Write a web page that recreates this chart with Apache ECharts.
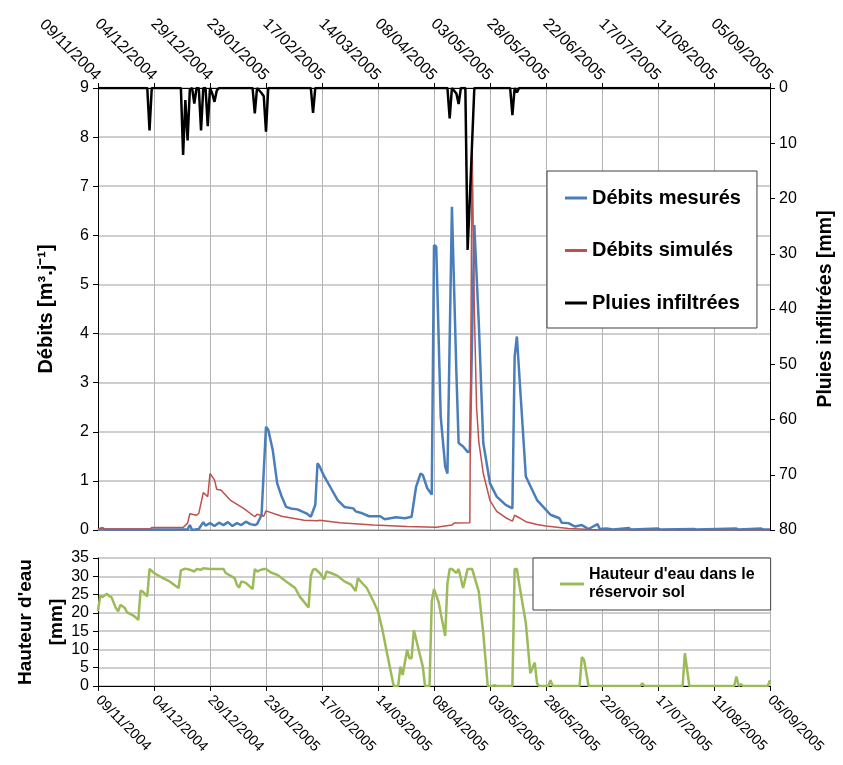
<!DOCTYPE html>
<html>
<head>
<meta charset="utf-8">
<script src="https://cdn.jsdelivr.net/npm/echarts@6/dist/echarts.min.js"></script>
<style>
  html, body { margin: 0; padding: 0; background: #fff; }
  #chart { width: 843px; height: 765px; }
</style>
</head>
<body>
<div id="chart"></div>
<script>
// days counted from 09/11/2004, one tick every 25 days
let dateLabels = ['09/11/2004', '04/12/2004', '29/12/2004', '23/01/2005', '17/02/2005', '14/03/2005',
  '08/04/2005', '03/05/2005', '28/05/2005', '22/06/2005', '17/07/2005', '11/08/2005', '05/09/2005']

// [day, m3/j]
let debitsMesures = [
  [0, 0.01], [2, 0.04], [3, 0.01], [40, 0.01], [41, 0.1], [42, 0.0], [45, 0.02], [47, 0.16], [48, 0.09],
  [50, 0.14], [52, 0.08], [54, 0.15], [56, 0.1], [58, 0.16], [60, 0.08], [62, 0.14], [64, 0.1], [66, 0.17],
  [68, 0.12], [70, 0.1], [71, 0.12], [73, 0.3], [75, 2.1], [76, 2.04], [78, 1.63], [80, 0.95], [82, 0.68],
  [84, 0.47], [86, 0.44], [89, 0.42], [93, 0.34], [95, 0.27], [97, 0.51], [98, 1.36], [99, 1.29], [101, 1.09],
  [104, 0.85], [107, 0.61], [110, 0.47], [114, 0.44], [115, 0.38], [118, 0.34], [121, 0.28], [126, 0.28],
  [128, 0.22], [133, 0.26], [137, 0.24], [140, 0.27], [142, 0.88], [144, 1.15], [145, 1.12], [147, 0.85],
  [149, 0.72], [150, 5.8], [151, 5.77], [153, 2.31], [155, 1.29], [156, 1.15], [158, 6.58], [160, 3.19],
  [161, 1.77], [163, 1.7], [165, 1.59], [166, 1.6], [168, 6.21], [170, 4.21], [172, 1.77], [175, 0.95],
  [178, 0.68], [182, 0.51], [185, 0.44], [186, 3.53], [187, 3.94], [189, 2.51], [191, 1.09], [196, 0.61],
  [200, 0.41], [202, 0.31], [206, 0.24], [207, 0.15], [210, 0.14], [213, 0.07], [216, 0.1], [219, 0.02],
  [223, 0.12], [224, 0.02], [227, 0.03], [230, 0.01], [237, 0.04], [238, 0.01], [250, 0.03], [251, 0.01],
  [266, 0.02], [267, 0.01], [285, 0.03], [286, 0.01], [296, 0.03], [297, 0.01], [300, 0.01]
]

let debitsSimules = [
  [0, 0.02], [23, 0.02], [24, 0.05], [38, 0.05], [40, 0.14], [41, 0.33], [44, 0.3], [45, 0.34], [47, 0.76],
  [49, 0.68], [50, 1.15], [52, 1.02], [53, 0.83], [55, 0.81], [59, 0.61], [65, 0.44], [70, 0.27], [71, 0.32],
  [74, 0.28], [75, 0.39], [82, 0.28], [92, 0.2], [98, 0.19], [99, 0.2], [108, 0.15], [123, 0.1], [138, 0.07],
  [151, 0.055], [158, 0.1], [159, 0.14], [166, 0.15], [167, 7.9], [168, 4.5], [169, 2.5], [170, 1.8],
  [172, 1.15], [175, 0.6], [178, 0.38], [182, 0.25], [185, 0.18], [186, 0.3], [188, 0.25], [191, 0.17],
  [196, 0.11], [200, 0.08], [210, 0.03], [220, 0.01], [300, 0.005]
]

// [day, mm]
let pluiesInfiltrees = [
  [0, 0], [22, 0], [23, 7.7], [24, 0], [37, 0], [38, 12.1], [39, 2.2], [40, 9.5], [41, 0.3], [42, 0],
  [43, 2.8], [44, 0], [45, 0], [46, 7.7], [47, 0], [48, 0], [49, 6.9], [50, 0], [51, 1.0], [52, 2.5],
  [53, 0.5], [54, 0], [69, 0], [70, 4.6], [71, 0], [73, 0.9], [74, 1.5], [75, 7.9], [76, 0], [95, 0],
  [96, 4.5], [97, 0], [156, 0], [157, 5.5], [158, 0], [160, 1.0], [161, 2.9], [162, 0], [164, 0],
  [165, 29.3], [166, 20], [168, 0], [184, 0], [185, 4.9], [186, 0], [187, 0.8], [188, 0], [300, 0]
]

let hauteurEau = [
  [0, 20.5], [1, 24.7], [2, 24.3], [3, 24.8], [4, 25.2], [5, 24.6], [6, 24.3], [8, 21.3], [9, 20.4],
  [10, 22.2], [12, 21.3], [13, 20.1], [16, 19.2], [18, 18.1], [19, 26.1], [20, 25.8], [22, 24.5], [23, 32],
  [25, 30.9], [29, 29.5], [32, 28.6], [35, 27.2], [36, 26.8], [37, 31.6], [39, 32.1], [41, 31.8], [43, 31.3],
  [44, 32], [46, 31.8], [47, 32.2], [50, 32], [56, 32], [57, 30.9], [61, 29.5], [62, 27.7], [63, 26.9],
  [64, 28.6], [66, 28.2], [69, 26.5], [70, 32], [71, 31.3], [72, 31.6], [74, 32], [75, 32], [77, 31.1],
  [80, 30.4], [84, 28.6], [88, 26.8], [90, 24.5], [93, 22.2], [94, 21.5], [95, 30.1], [96, 31.8], [97, 32],
  [99, 30.9], [101, 29.2], [102, 31.3], [104, 30.9], [107, 30.1], [110, 28.6], [113, 27.7], [115, 26],
  [116, 29.5], [118, 28.1], [120, 26.8], [123, 23.1], [125, 20.4], [127, 15.3], [129, 9], [132, 0], [134, 0],
  [135, 5.3], [136, 3], [138, 9.9], [139, 7.6], [140, 7.6], [141, 15.3], [145, 5.3], [146, 0], [148, 0],
  [149, 23.1], [150, 26.5], [152, 23.1], [155, 13.7], [156, 28.1], [157, 32], [158, 32], [160, 30.9],
  [161, 32], [163, 26.8], [165, 32], [167, 32], [170, 25.8], [172, 14.4], [174, 0], [176, 0], [177, 0.2],
  [178, 0], [185, 0], [186, 32], [187, 32], [188, 28.1], [191, 17.2], [193, 3.5], [195, 6.4], [196, 0.7],
  [197, 0], [201, 0], [202, 1.6], [203, 0], [215, 0], [216, 7.9], [217, 7.1], [219, 0], [242, 0], [243, 0.7],
  [244, 0], [261, 0], [262, 9], [264, 0], [284, 0], [285, 2.6], [286, 0], [287, 0.5], [288, 0], [299, 0],
  [300, 1.6]
]

let font = 'Liberation Sans'
let hGrid = { show: true, lineStyle: { color: '#cfcfcf', width: 2 } }
let vGrid = { show: true, lineStyle: { color: '#b4b4b4', width: 1 } }
let blackLine = { show: true, onZero: false, lineStyle: { color: '#000', width: 1 } }
let tick = { show: true, length: 5, lineStyle: { color: '#000' } }
let nameStyle = { fontFamily: font, fontSize: 20, fontWeight: 'bold', color: '#000' }
let dateFmt = function (v) { return dateLabels[Math.round(v / 25)] }

let myChart = echarts.init(document.getElementById('chart'))
myChart.setOption({
  animation: false,
  backgroundColor: '#fff',
  textStyle: { fontFamily: font },
  grid: [
    { left: 98, top: 88, width: 672, height: 442, outerBoundsMode: 'none' },
    { left: 98, top: 558, width: 672, height: 128, outerBoundsMode: 'none' }
  ],
  legend: [{
    data: ['Débits mesurés', 'Débits simulés', 'Pluies infiltrées'],
    orient: 'vertical',
    left: 547,
    top: 171,
    padding: [16, 16, 14, 18],
    itemGap: 30.5,
    itemWidth: 22,
    itemHeight: 3,
    icon: 'rect',
    backgroundColor: '#fff',
    borderColor: '#404040',
    borderWidth: 1,
    textStyle: { fontFamily: font, fontSize: 20, fontWeight: 'bold', color: '#000', lineHeight: 22 }
  }, {
    data: ['Hauteur d\'eau dans le réservoir sol'],
    formatter: function () { return 'Hauteur d\'eau dans le\nréservoir sol' },
    left: 533,
    top: 558,
    padding: [8, 16, 8, 27],
    itemWidth: 24,
    itemHeight: 3,
    icon: 'rect',
    backgroundColor: '#fff',
    borderColor: '#404040',
    borderWidth: 1,
    textStyle: { fontFamily: font, fontSize: 16, fontWeight: 'bold', color: '#000', lineHeight: 18 }
  }],
  xAxis: [{
    gridIndex: 0,
    type: 'value',
    position: 'top',
    min: 0,
    max: 300,
    interval: 25,
    axisLine: blackLine,
    axisTick: tick,
    // echarts mirrors the rotation on a top axis
    axisLabel: { rotate: 45, fontSize: 16, color: '#000', margin: 10, formatter: dateFmt },
    splitLine: vGrid
  }, {
    gridIndex: 0,
    type: 'value',
    position: 'bottom',
    min: 0,
    max: 300,
    interval: 25,
    axisLine: { show: true, onZero: false, lineStyle: { color: '#808080', width: 1 } },
    axisTick: { show: false },
    axisLabel: { show: false },
    splitLine: { show: false }
  }, {
    gridIndex: 1,
    type: 'value',
    position: 'bottom',
    min: 0,
    max: 300,
    interval: 25,
    axisLine: blackLine,
    axisTick: tick,
    axisLabel: { rotate: -45, fontSize: 14.5, color: '#000', margin: 12, formatter: dateFmt },
    splitLine: vGrid
  }],
  yAxis: [{
    gridIndex: 0,
    type: 'value',
    position: 'left',
    min: 0,
    max: 9,
    interval: 1,
    name: 'Débits [m³.j⁻¹]',
    nameLocation: 'middle',
    nameRotate: 90,
    nameGap: 42,
    nameMoveOverlap: false,
    nameTextStyle: nameStyle,
    axisLine: blackLine,
    axisTick: tick,
    axisLabel: { fontSize: 16, color: '#000', margin: 9 },
    splitLine: hGrid
  }, {
    gridIndex: 0,
    type: 'value',
    position: 'right',
    inverse: true,
    min: 0,
    max: 80,
    interval: 10,
    name: 'Pluies infiltrées [mm]',
    nameLocation: 'middle',
    nameRotate: 90,
    nameGap: 46,
    nameMoveOverlap: false,
    nameTextStyle: { fontFamily: font, fontSize: 19.5, fontWeight: 'bold', color: '#000' },
    axisLine: blackLine,
    axisTick: tick,
    axisLabel: { fontSize: 16, color: '#000', margin: 9 },
    splitLine: { show: false }
  }, {
    gridIndex: 1,
    type: 'value',
    position: 'left',
    min: 0,
    max: 35,
    interval: 5,
    name: 'Hauteur d\'eau\n[mm]',
    nameLocation: 'middle',
    nameRotate: 90,
    nameGap: 26,
    nameMoveOverlap: false,
    nameTextStyle: { fontFamily: font, fontSize: 19, fontWeight: 'bold', color: '#000', lineHeight: 31 },
    axisLine: blackLine,
    axisTick: tick,
    axisLabel: { fontSize: 16, color: '#000', margin: 9 },
    splitLine: hGrid
  }],
  series: [{
    name: 'Débits mesurés',
    type: 'line',
    xAxisIndex: 0,
    yAxisIndex: 0,
    data: debitsMesures,
    showSymbol: false,
    color: '#4a7ebb',
    lineStyle: { color: '#4a7ebb', width: 2.5 }
  }, {
    name: 'Débits simulés',
    type: 'line',
    xAxisIndex: 0,
    yAxisIndex: 0,
    data: debitsSimules,
    showSymbol: false,
    color: '#c0504d',
    lineStyle: { color: '#c0504d', width: 1.5 }
  }, {
    name: 'Pluies infiltrées',
    type: 'line',
    xAxisIndex: 0,
    yAxisIndex: 1,
    data: pluiesInfiltrees,
    showSymbol: false,
    color: '#000',
    lineStyle: { color: '#000', width: 2.5 }
  }, {
    name: 'Hauteur d\'eau dans le réservoir sol',
    type: 'line',
    xAxisIndex: 2,
    yAxisIndex: 2,
    data: hauteurEau,
    showSymbol: false,
    color: '#9bbb59',
    lineStyle: { color: '#9bbb59', width: 2.5 }
  }]
})
</script>
</body>
</html>
